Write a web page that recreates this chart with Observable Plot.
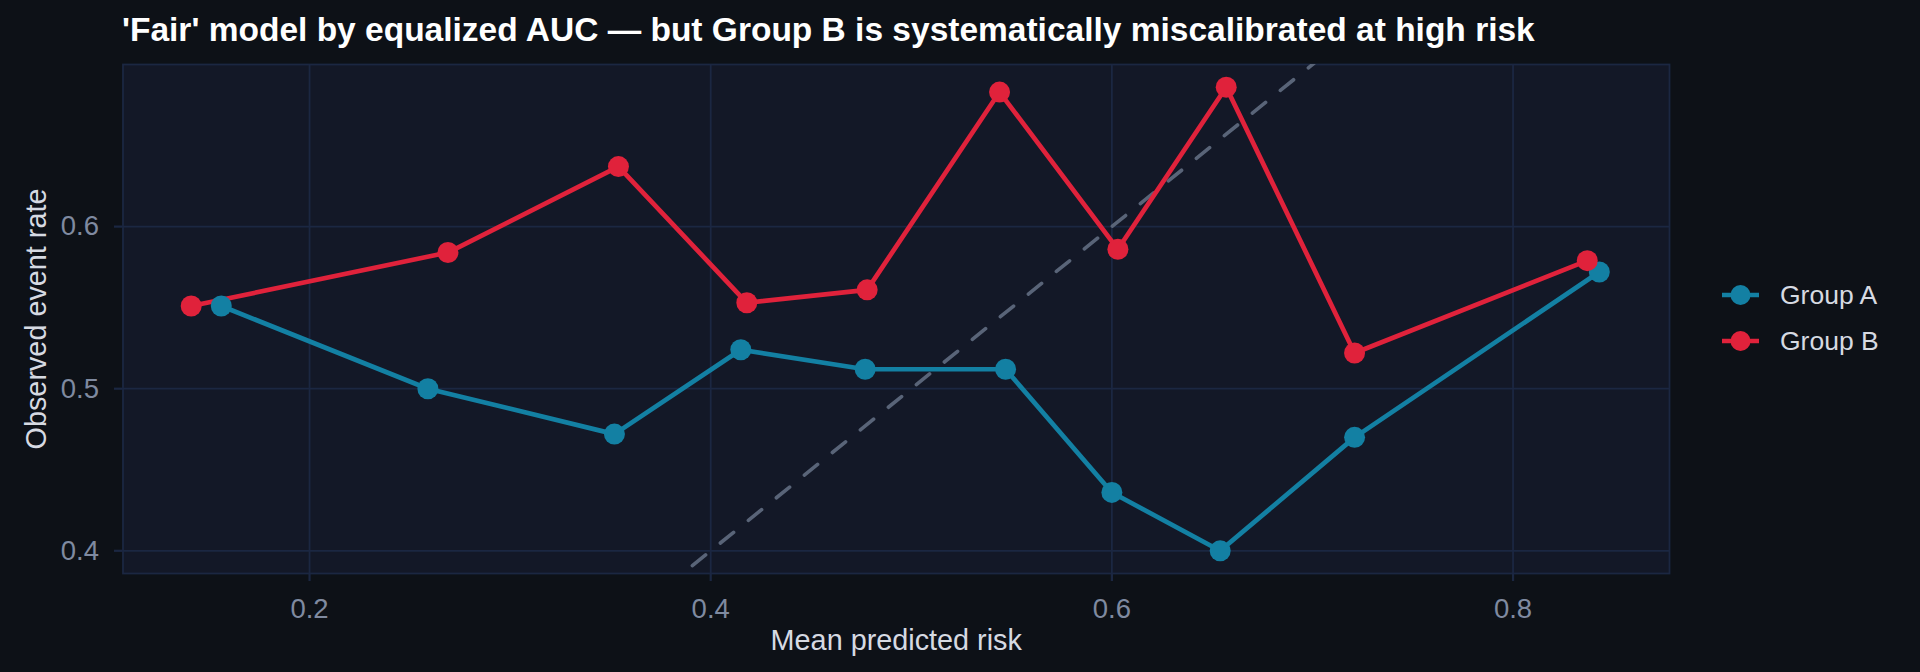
<!DOCTYPE html>
<html><head><meta charset="utf-8">
<script src="https://cdn.jsdelivr.net/npm/d3@7"></script>
<script src="https://cdn.jsdelivr.net/npm/@observablehq/plot@0.6"></script>
<style>
html,body{margin:0;padding:0;background:#0d1117;}
#wrap{position:relative;width:1920px;height:672px;overflow:hidden;font-family:"Liberation Sans",Arial,sans-serif;background:#0d1117;}
#title{height:50px;box-sizing:border-box;padding-top:13.4px;padding-left:122px;font-size:33.5px;line-height:33.5px;font-weight:bold;color:#ffffff;white-space:nowrap;}
#chart svg{display:block;}
#legend{position:absolute;left:1722px;top:272px;color:#d6dae2;font-size:26.5px;}
.item{display:flex;align-items:center;height:46px;}
.item svg{margin-right:21px;display:block;}
</style>
</head><body>
<div id="wrap">
  <div id="title"></div>
  <div id="chart"></div>
  <div id="legend"></div>
</div>
<script>
const titleText = "'Fair' model by equalized AUC \u2014 but Group B is systematically miscalibrated at high risk";
const xLabel = "Mean predicted risk";
const yLabel = "Observed event rate";
const groups = ["Group A", "Group B"];
const colors = ["#1380a3", "#e0223b"];
const predA = [0.156, 0.259, 0.352, 0.415, 0.477, 0.547, 0.600, 0.654, 0.721, 0.843];
const obsA  = [0.551, 0.500, 0.472, 0.524, 0.512, 0.512, 0.436, 0.400, 0.470, 0.572];
const predB = [0.141, 0.269, 0.354, 0.418, 0.478, 0.544, 0.603, 0.657, 0.721, 0.837];
const obsB  = [0.551, 0.584, 0.637, 0.553, 0.561, 0.683, 0.586, 0.686, 0.522, 0.579];
const xTicks = [0.2, 0.4, 0.6, 0.8];
const yTicks = [0.4, 0.5, 0.6];
const refLine = [0, 1];

document.getElementById("title").textContent = titleText;

const rows = [
  ...predA.map((p, i) => ({group: groups[0], pred: p, obs: obsA[i]})),
  ...predB.map((p, i) => ({group: groups[1], pred: p, obs: obsB[i]}))
];

const gridColor = "#1b2742";
const tickColor = "#7f8aa0";

const chart = Plot.plot({
  width: 1920,
  height: 622,
  marginLeft: 122.5,
  marginRight: 251,
  marginTop: 14,
  marginBottom: 99,
  style: {background: "transparent", fontFamily: "'Liberation Sans', Arial, sans-serif", fontSize: "27.5px", color: tickColor},
  x: {domain: [0.107, 0.878]},
  y: {domain: [0.386, 0.700]},
  color: {domain: groups, range: colors},
  marks: [
    Plot.frame({fill: "#131827", stroke: gridColor, strokeWidth: 1.8}),
    Plot.gridX(xTicks, {stroke: gridColor, strokeOpacity: 1, strokeWidth: 1.8}),
    Plot.gridY(yTicks, {stroke: gridColor, strokeOpacity: 1, strokeWidth: 1.8}),
    Plot.axisX(xTicks, {tickSize: 8, tickPadding: 16.5, stroke: gridColor, strokeWidth: 2.2, fill: tickColor, label: null, tickFormat: d3.format(".1f")}),
    Plot.axisY(yTicks, {tickSize: 8.5, tickPadding: 15.5, stroke: gridColor, strokeWidth: 2.2, fill: tickColor, label: null, tickFormat: d3.format(".1f")}),
    Plot.text([xLabel], {frameAnchor: "bottom", lineAnchor: "bottom", dy: 76.5, fill: "#d6dae2", fontSize: 28.8}),
    Plot.text([yLabel], {frameAnchor: "left", textAnchor: "middle", lineAnchor: "top", rotate: -90, dx: -97, fill: "#d6dae2", fontSize: 28.8}),
    Plot.line(refLine, {x: d => d, y: d => d, stroke: "#596478", strokeWidth: 3.6, strokeDasharray: "17,19", clip: true}),
    Plot.line(rows, {x: "pred", y: "obs", z: "group", stroke: "group", strokeWidth: 4.7}),
    Plot.dot(rows, {x: "pred", y: "obs", fill: "group", r: 10.5})
  ]
});
document.getElementById("chart").appendChild(chart);

const legend = document.getElementById("legend");
groups.forEach((g, i) => {
  const item = document.createElement("div");
  item.className = "item";
  item.innerHTML = `<svg width="37" height="24"><line x1="0" y1="12" x2="37" y2="12" stroke="${colors[i]}" stroke-width="4.7"/><circle cx="18.5" cy="12" r="10" fill="${colors[i]}"/></svg><span>${g}</span>`;
  legend.appendChild(item);
});
</script>
</body></html>
